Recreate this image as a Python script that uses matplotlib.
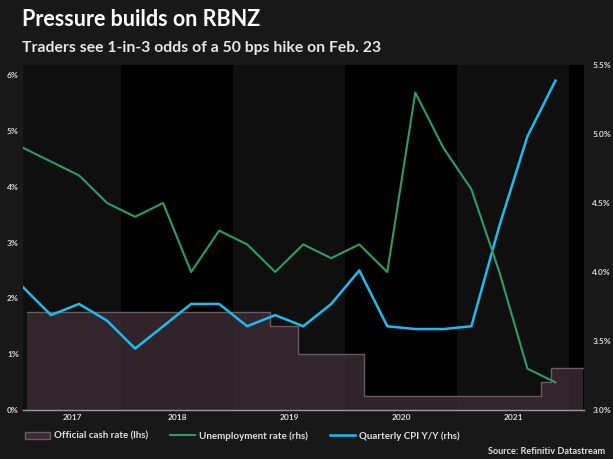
import numpy as np
import pandas as pd
import matplotlib.pyplot as plt
from matplotlib.patches import Patch
from matplotlib.lines import Line2D

plt.rcParams['font.family'] = ['Lato', 'DejaVu Sans']

# quarterly data, Q1 2017 .. Q4 2021 (plotted at mid-quarter)
quarters = ["2017Q1", "2017Q2", "2017Q3", "2017Q4",
            "2018Q1", "2018Q2", "2018Q3", "2018Q4",
            "2019Q1", "2019Q2", "2019Q3", "2019Q4",
            "2020Q1", "2020Q2", "2020Q3", "2020Q4",
            "2021Q1", "2021Q2", "2021Q3", "2021Q4"]
cpi = [2.2, 1.7, 1.9, 1.6, 1.1, 1.5, 1.9, 1.9, 1.5, 1.7,
       1.5, 1.9, 2.5, 1.5, 1.45, 1.45, 1.5, 3.3, 4.9, 5.9]
unemp = [4.9, 4.8, 4.7, 4.5, 4.4, 4.5, 4.0, 4.3, 4.2, 4.0,
         4.2, 4.1, 4.2, 4.0, 5.3, 4.9, 4.6, 4.0, 3.3, 3.2]

# official cash rate steps
ocr_dates = ["2017-03-01", "2019-05-01", "2019-08-01", "2020-03-01",
             "2021-10-01", "2021-11-01", "2022-02-15"]
ocr_vals = [1.75, 1.50, 1.00, 0.25, 0.50, 0.75, 0.75]

years = [2017, 2018, 2019, 2020, 2021]


def to_dec(ts):
    ts = pd.Timestamp(ts)
    return ts.year + (ts.dayofyear - 1) / 365.25


q_x = [p.start_time.year + (p.start_time.month - 1) / 12 + 0.125
       for p in pd.PeriodIndex(quarters, freq="Q")]
ocr_x = [to_dec(d) for d in ocr_dates]

bg = "#181818"
fig = plt.figure(figsize=(6.13, 4.59), dpi=100, facecolor=bg)
ax = fig.add_axes([23 / 613, 1 - 410 / 459, 561 / 613, 345 / 459])
ax.set_facecolor("#000000")
ax2 = ax.twinx()

xmin, xmax = 2017.125, 2022.13
ax.set_xlim(xmin, xmax)
ax.set_ylim(0, 6.18)
ax2.set_ylim(3.0, 5.5)

# alternate year bands
for y in [2017, 2019, 2021]:
    ax.axvspan(max(y, xmin), y + 1, color="#0f0f0f", lw=0, zorder=0)

ax.fill_between(ocr_x, ocr_vals, step="post", color="#3a2a32", alpha=0.85,
                lw=0, zorder=1)
ax.step(ocr_x, ocr_vals, where="post", color="#6a5a62", lw=1, zorder=2)
ax.plot(q_x, cpi, color="#1cbcef", lw=1.8, zorder=4)
ax2.plot(q_x, unemp, color="#2e9c64", lw=1.5, zorder=3)

ax.set_yticks([0, 1, 2, 3, 4, 5, 6])
ax.set_yticklabels([f"{v}%" for v in range(7)])
ax2.set_yticks([3.0, 3.5, 4.0, 4.5, 5.0, 5.5])
ax2.set_yticklabels([f"{v:.1f}%" for v in [3.0, 3.5, 4.0, 4.5, 5.0, 5.5]])

centers = [(max(y, xmin) + min(y + 1, xmax)) / 2 for y in years]
ax.set_xticks(centers)
ax.set_xticklabels([str(y) for y in years])

for a in (ax, ax2):
    a.tick_params(length=0, labelsize=6, labelcolor="#d8d8d8", pad=3)
    for lab in a.get_xticklabels() + a.get_yticklabels():
        lab.set_fontweight("bold")
    for s in a.spines.values():
        s.set_visible(False)
ax.spines["bottom"].set_visible(True)
ax.spines["bottom"].set_color("#9a9a9a")
ax.spines["bottom"].set_linewidth(1)
ax.tick_params(axis="y", pad=3)
ax2.tick_params(axis="y", pad=6)

fig.text(22 / 613, 1 - 20 / 459, "Pressure builds on RBNZ", color="white",
         fontsize=15.5, fontweight="bold", va="center")
fig.text(22 / 613, 1 - 48 / 459, "Traders see 1-in-3 odds of a 50 bps hike on Feb. 23",
         color="#e6e6e6", fontsize=11.3, fontweight="bold", va="center")

handles = [Patch(facecolor="#3a2a32", edgecolor="#6a5a62"),
           Line2D([], [], color="#2e9c64", lw=1.5),
           Line2D([], [], color="#1cbcef", lw=1.8)]
labels = ["Official cash rate (lhs)", "Unemployment rate (rhs)",
          "Quarterly CPI Y/Y (rhs)"]
leg = fig.legend(handles, labels, loc="center left",
                 bbox_to_anchor=(25 / 613, 1 - 436 / 459), ncol=3, frameon=False,
                 fontsize=7, handlelength=2.6, columnspacing=2.3,
                 handletextpad=0.35, borderpad=0, borderaxespad=0)
for t in leg.get_texts():
    t.set_color("#e0e0e0")
    t.set_fontweight("bold")

fig.text(605 / 613, 1 - 452 / 459, "Source: Refinitiv Datastream", color="#e0e0e0",
         fontsize=6.6, fontweight="bold", ha="right", va="center")

fig.savefig("out.png", dpi=100, facecolor=bg)
